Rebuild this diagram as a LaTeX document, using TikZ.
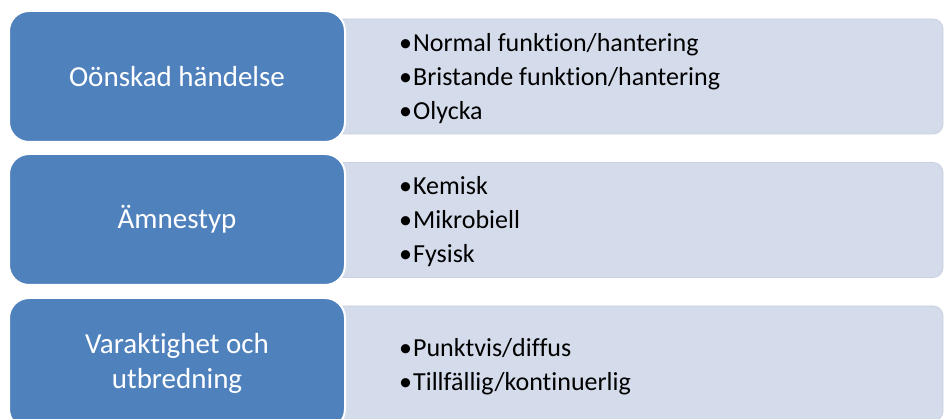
\documentclass[tikz,border=0pt]{standalone}
\usepackage{fontspec}
\setmainfont{Carlito}[Ligatures={NoCommon,NoContextual}, Contextuals=NoAlternate]
\definecolor{boxblue}{RGB}{79,129,189}
\definecolor{boxlight}{RGB}{212,219,234}
\definecolor{lightedge}{RGB}{200,208,226}
\newcommand{\itm}{•\hspace{1pt}}
\begin{document}
\begin{tikzpicture}[x=1pt,y=-1pt,
  bluebox/.style={draw=white, line width=2pt, fill=boxblue, rounded corners=20pt,
    minimum width=336pt, minimum height=131pt, text=white, align=center,
    font=\fontsize{29}{35}\selectfont, inner sep=0pt},
  lightbox/.style={draw=lightedge, line width=0.8pt, fill=boxlight, rounded corners=10pt,
    minimum width=643pt, minimum height=115pt, inner sep=0pt},
  itemlist/.style={anchor=west, align=left, inner sep=0pt, text=black,
    font=\fontsize{26}{34}\selectfont}]
\useasboundingbox (0,0) rectangle (944,419);
% light panels
\node[lightbox] (l1) at (621.5,76.5) {};
\node[lightbox] (l2) at (621.5,220) {};
\node[lightbox] (l3) at (621.5,363.5) {};
% blue boxes
\node[bluebox] (b1) at (177,76.5) {Oönskad händelse};
\node[bluebox] (b2) at (177,219.5) {Ämnestyp};
\node[bluebox] (b3) at (177,363.5) {Varaktighet och\\utbredning};
% item lists
\node[itemlist] (t1) at (399,78.5) {\itm Normal funktion/hantering\\\itm Bristande funktion/hantering\\\itm Olycka};
\node[itemlist] (t2) at (399,221.5) {\itm Kemisk\\\itm Mikrobiell\\\itm Fysisk};
\node[itemlist] (t3) at (399,367) {\itm Punktvis/diffus\\\itm Tillfällig/kontinuerlig};
\end{tikzpicture}
\end{document}
